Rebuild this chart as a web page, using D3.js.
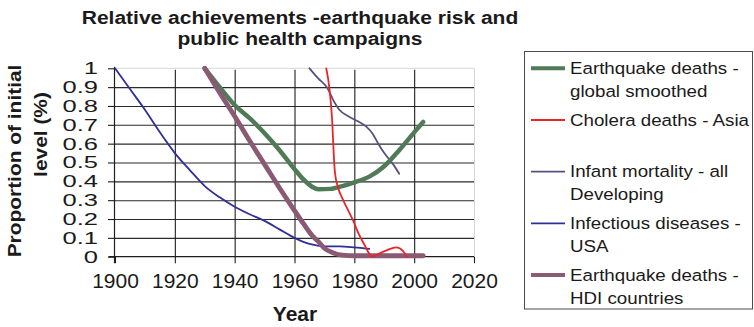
<!DOCTYPE html>
<html>
<head>
<meta charset="utf-8">
<script src="https://cdn.jsdelivr.net/npm/d3@7"></script>
<style>
  body { margin: 0; background: #fff; }
  svg { display: block; font-family: "Liberation Sans", Arial, Helvetica, sans-serif; }
</style>
</head>
<body>
<svg id="chart" width="754" height="327"></svg>
<script>
// ---- data: [year, proportion of initial level] ----
const quakeGlobal = [[1930,1],[1935,0.9],[1940,0.805],[1945,0.735],[1950,0.655],[1955,0.565],[1960,0.465],[1963,0.41],[1966,0.37],[1968,0.358],[1972,0.36],[1976,0.375],[1980,0.395],[1985,0.425],[1990,0.48],[1995,0.565],[2000,0.66],[2003,0.715]];
const choleraAsia = [[1970.6,1],[1971.7,0.89],[1972.6,0.72],[1973.1,0.55],[1973.5,0.45],[1974.5,0.37],[1976,0.31],[1977.5,0.26],[1979.5,0.195],[1981.5,0.12],[1983.5,0.06],[1985,0.015],[1985.8,0],[1988.5,0.018],[1991,0.035],[1994,0.05],[1996.3,0.03],[1997.5,0]];
const infantDeveloping = [[1965,1],[1968,0.945],[1971,0.895],[1973,0.83],[1975,0.78],[1978,0.745],[1981,0.72],[1984,0.69],[1986,0.655],[1988,0.6],[1990,0.55],[1993,0.49],[1995,0.44]];
const infectiousUSA = [[1900,1],[1905,0.89],[1910,0.78],[1915,0.66],[1920,0.55],[1925,0.46],[1930,0.375],[1935,0.315],[1940,0.265],[1945,0.225],[1950,0.19],[1955,0.145],[1960,0.1],[1965,0.068],[1970,0.055],[1975,0.055],[1980,0.05],[1985,0.042]];
const quakeHDI = [[1930,1],[1935,0.87],[1940,0.745],[1945,0.615],[1950,0.49],[1955,0.365],[1960,0.245],[1963,0.175],[1966,0.11],[1968,0.08],[1970,0.045],[1973,0.02],[1976,0.008],[1980,0.005],[1990,0.005],[2003,0.005]];

const seriesNames = [
  ["Earthquake deaths -", "global smoothed"],
  ["Cholera deaths - Asia", ""],
  ["Infant mortality - all", "Developing"],
  ["Infectious diseases -", "USA"],
  ["Earthquake deaths -", "HDI countries"]
];
const seriesColors = ["#4f7b57", "#e8252b", "#5a5080", "#2f2f98", "#8a5a74"];
const seriesWidths = [4.5, 1.8, 1.8, 1.8, 4.8];
const seriesData = [quakeGlobal, choleraAsia, infantDeveloping, infectiousUSA, quakeHDI];
// drawing order: thin lines first, heavy earthquake lines over them
const drawOrder = [3, 2, 0, 4, 1];

const xTicks = [1900, 1920, 1940, 1960, 1980, 2000, 2020];
const yTicks = [0, 0.1, 0.2, 0.3, 0.4, 0.5, 0.6, 0.7, 0.8, 0.9, 1];
const yTickLabels = ["0", "0.1", "0.2", "0.3", "0.4", "0.5", "0.6", "0.7", "0.8", "0.9", "1"];

const titleLines = ["Relative achievements -earthquake risk and", "public health campaigns"];
const yTitleLines = ["Proportion of initial", "level (%)"];
const xTitle = "Year";

// ---- layout ----
const svg = d3.select("#chart");
const plot = { left: 115, right: 474, top: 68.3, bottom: 256.7 };
const ink = "#1a1a1a";

const x = d3.scaleLinear().domain([1900, 2020]).range([plot.left, plot.right]);
const y = d3.scaleLinear().domain([0, 1]).range([plot.bottom, plot.top]);

// widen text horizontally to a given factor of its natural width
function stretch(sel, k) {
  sel.each(function () {
    const w = this.getComputedTextLength();
    d3.select(this).attr("textLength", w * k).attr("lengthAdjust", "spacingAndGlyphs");
  });
}

// plot frame (light) on top and right
svg.append("line").attr("x1", plot.left).attr("x2", plot.right)
  .attr("y1", y(1)).attr("y2", y(1)).attr("stroke", "#d6d6d6").attr("stroke-width", 1);
svg.append("line").attr("x1", plot.right + 0.5).attr("x2", plot.right + 0.5)
  .attr("y1", y(1)).attr("y2", y(0)).attr("stroke", "#d6d6d6").attr("stroke-width", 1);

// horizontal gridlines
svg.append("g")
  .attr("transform", `translate(${plot.left},0)`)
  .call(d3.axisLeft(y).tickValues(yTicks.filter(v => v > 0 && v < 1))
    .tickSize(-(plot.right - plot.left)).tickFormat(""))
  .call(g => g.select(".domain").remove())
  .call(g => g.selectAll("line").attr("stroke", "#2a2a2a").attr("stroke-width", 1.1));

// vertical gridlines
svg.append("g")
  .attr("transform", `translate(0,${plot.bottom})`)
  .call(d3.axisBottom(x).tickValues(xTicks.filter(v => v > 1900 && v < 2020))
    .tickSize(-(plot.bottom - plot.top - 1.5)).tickFormat(""))
  .call(g => g.select(".domain").remove())
  .call(g => g.selectAll("line").attr("stroke", "#1e1e1e").attr("stroke-width", 1.1));

// x axis
const gx = svg.append("g")
  .attr("transform", `translate(0,${plot.bottom})`)
  .call(d3.axisBottom(x).tickValues(xTicks).tickSize(6.5).tickPadding(11).tickFormat(d3.format("d")));
gx.select(".domain").remove();
gx.selectAll("line").attr("stroke", "#1e1e1e").attr("stroke-width", 1.1);
gx.selectAll("text").attr("fill", ink).attr("font-size", 20)
  .attr("font-family", "Liberation Sans, Arial, sans-serif");
stretch(gx.selectAll("text"), 1.05);
svg.append("line").attr("x1", plot.left - 6.5).attr("x2", plot.right)
  .attr("y1", y(0)).attr("y2", y(0)).attr("stroke", "#1e1e1e").attr("stroke-width", 1.2);

// y axis
const gy = svg.append("g")
  .attr("transform", `translate(${plot.left - 0.5},0)`)
  .call(d3.axisLeft(y).tickValues(yTicks).tickSize(6.5).tickPadding(10)
    .tickFormat((d, i) => yTickLabels[i]));
gy.select(".domain").remove();
gy.selectAll("line").attr("stroke", "#1e1e1e").attr("stroke-width", 1.1);
gy.selectAll("text").attr("fill", ink).attr("font-size", 17)
  .attr("font-family", "Liberation Sans, Arial, sans-serif");
stretch(gy.selectAll("text"), 1.5);
svg.append("line").attr("x1", plot.left - 0.5).attr("x2", plot.left - 0.5)
  .attr("y1", y(1) - 1.5).attr("y2", y(0) + 6.5).attr("stroke", "#1e1e1e").attr("stroke-width", 1.2);

// series lines
const line = d3.line().x(d => x(d[0])).y(d => y(d[1])).curve(d3.curveMonotoneX);
svg.append("g").selectAll("path")
  .data(drawOrder)
  .join("path")
  .attr("d", i => line(seriesData[i]))
  .attr("fill", "none")
  .attr("stroke", i => seriesColors[i])
  .attr("stroke-width", i => seriesWidths[i])
  .attr("stroke-linejoin", "round")
  .attr("stroke-linecap", "round");

// title
const title = svg.append("g").attr("fill", ink).attr("font-weight", "bold").attr("font-size", 17.5);
title.selectAll("text").data(titleLines).join("text")
  .attr("x", 300).attr("y", (d, i) => 23.5 + i * 21)
  .attr("text-anchor", "middle")
  .text(d => d)
  .call(stretch, 1.2);

// axis titles
svg.append("text")
  .attr("x", 295).attr("y", 321)
  .attr("text-anchor", "middle").attr("font-weight", "bold").attr("font-size", 21)
  .attr("fill", ink).text(xTitle);

const yTitleCenters = [161, 134.5];
const yTitleBase = [20.5, 46.5];
svg.append("g").attr("fill", ink).attr("font-weight", "bold").attr("font-size", 18.5)
  .selectAll("text").data(yTitleLines).join("text")
  .attr("transform", (d, i) => `translate(${yTitleBase[i]},${yTitleCenters[i]}) rotate(-90)`)
  .attr("text-anchor", "middle")
  .text(d => d)
  .call(stretch, 1.13);

// legend
const legend = svg.append("g");
legend.append("rect")
  .attr("x", 524.5).attr("y", 51.5).attr("width", 228).attr("height", 257.5)
  .attr("fill", "#fff").attr("stroke", "#4a4a4a").attr("stroke-width", 1);
const entry = legend.selectAll("g.entry").data(seriesNames).join("g")
  .attr("class", "entry")
  .attr("transform", (d, i) => `translate(0,${68.3 + i * 51.7})`);
entry.append("line")
  .attr("x1", 531).attr("x2", 565).attr("y1", 0).attr("y2", 0)
  .attr("stroke", (d, i) => seriesColors[i])
  .attr("stroke-width", (d, i) => seriesWidths[i] >= 4 ? 4 : 1.8);
entry.selectAll("text").data(d => d).join("text")
  .attr("x", 570).attr("y", (d, j) => 5.5 + j * 23)
  .attr("font-size", 16.3).attr("fill", ink)
  .text(d => d)
  .call(stretch, 1.15);
</script>
</body>
</html>
